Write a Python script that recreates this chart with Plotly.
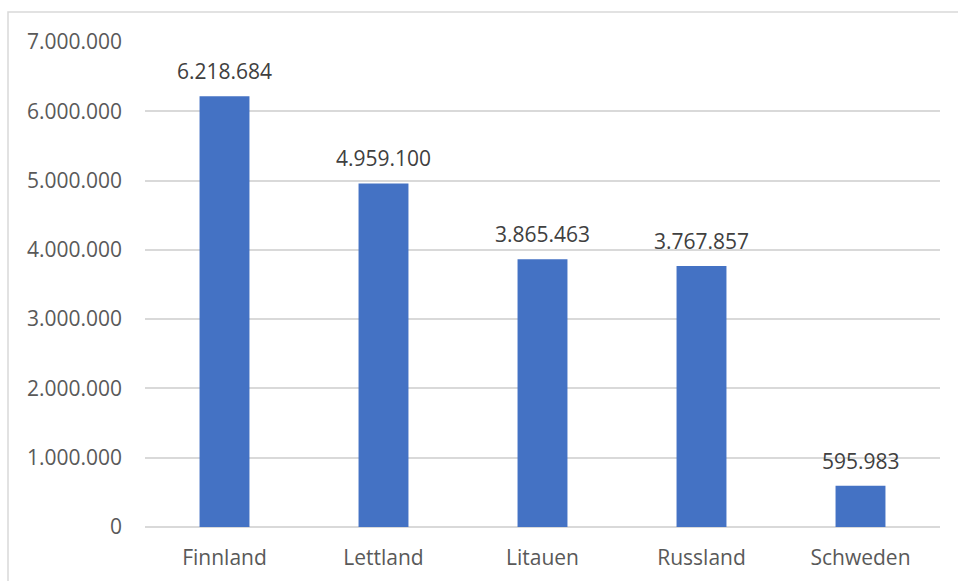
import plotly.graph_objects as go

categories = ["Finnland", "Lettland", "Litauen", "Russland", "Schweden"]
values = [6218684, 4959100, 3865463, 3767857, 595983]
tick_vals = [0, 1000000, 2000000, 3000000, 4000000, 5000000, 6000000, 7000000]

W, H = 958, 581
L, R, T, B = 145, 18, 42, 54
pw, ph = W - L - R, H - T - B

def fmt(v):
    return f"{v:,}".replace(",", ".")

fig = go.Figure()
fig.add_trace(go.Bar(x=categories, y=values, marker_color="#4472C4",
                     marker_line_width=0, hoverinfo="x+y"))

for c, v in zip(categories, values):
    fig.add_annotation(x=c, y=v, text=fmt(v), showarrow=False, yanchor="bottom",
                       yshift=9, font=dict(family="Open Sans", size=21, color="#404040"))

# chart border
fig.add_shape(type="rect", xref="paper", yref="paper",
              x0=(8 - L) / pw, x1=(W + 5 - L) / pw,
              y0=(H - 600 - B) / ph * 1, y1=(H - 12 - B) / ph,
              line=dict(color="#D9D9D9", width=1.5), fillcolor="rgba(0,0,0,0)", layer="below")

fig.update_layout(
    width=W, height=H,
    margin=dict(l=L, r=R, t=T, b=B, autoexpand=False),
    paper_bgcolor="white", plot_bgcolor="white",
    separators=",.",
    bargap=0.686,
    showlegend=False,
    font=dict(family="Open Sans", size=21, color="#595959"),
    xaxis=dict(showgrid=False, showline=False, ticks="", ticklabelstandoff=16,
               automargin=False, tickfont=dict(size=21, color="#595959")),
    yaxis=dict(range=[0, 7000000], tickvals=tick_vals, tickformat=",d",
               showgrid=True, gridcolor="#D9D9D9", gridwidth=1.5,
               zeroline=True, zerolinecolor="#D9D9D9", zerolinewidth=1.5,
               showline=False, ticks="", ticklabelstandoff=22, automargin=False,
               tickfont=dict(size=21, color="#595959")),
)

fig.write_html("out.html")
